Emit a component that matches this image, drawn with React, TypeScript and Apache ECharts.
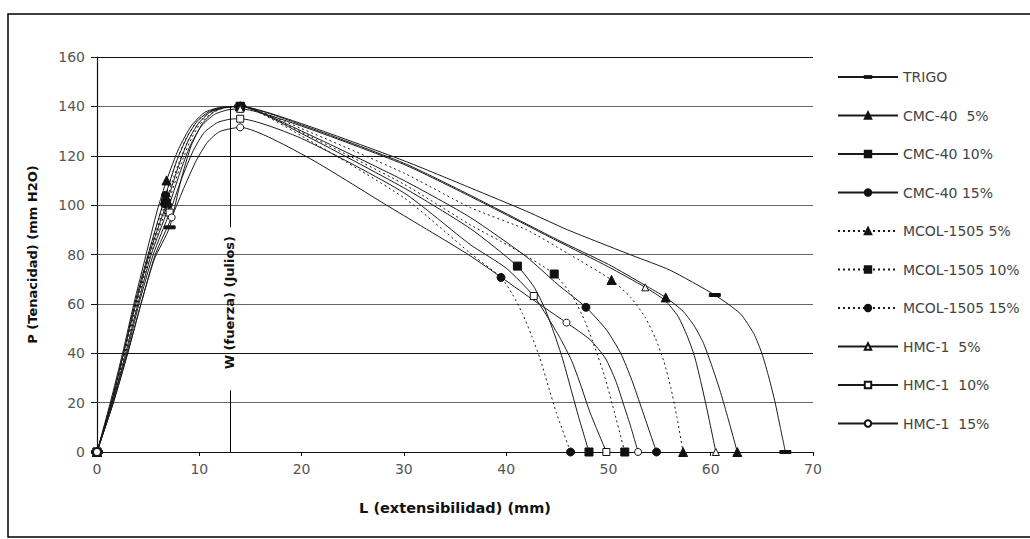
import React, { useEffect, useRef } from "react";
import * as echarts from "echarts";

// [x (mm), P (mm H2O), marker flag]
const TRIGO = [[0,0,1],[1.6,20],[3.0,40],[4.3,60],[5.6,78],[7.1,91,1],[8.2,110],[9.2,124],[10.3,133],[11.5,138],[12.8,139.8],[14,140,1],[20,133],[30,118],[36.5,107],[42,97.5],[46,90],[52.4,79.5],[56,73.7],[60.4,63.6,1],[62.9,56],[64.2,48],[65.0,40],[65.7,30],[66.3,20],[66.8,10],[67.3,0,1]];
const CMC5 = [[0,0,1],[1.3,20],[2.5,40],[3.6,60],[4.8,80],[5.9,98],[6.8,110,1],[8.0,123],[9.2,132],[10.5,137.5],[12,139.6],[14,140,1],[20,132.5],[30,117],[36.5,104],[45,86],[50,76],[53.6,67.5],[55.6,62.6,1],[57.3,57],[58.4,51],[59.3,44],[60.1,35],[60.9,25],[61.6,15],[62.6,0,1]];
const CMC10 = [[0,0,1],[1.4,20],[2.6,40],[3.8,60],[5.1,80],[6.8,100.7,1],[7.9,115],[8.9,126],[9.9,133],[11,137.5],[12.3,139.5],[14,140,1],[20,129],[30,107],[36.5,90.5],[41.1,75.3,1],[42.7,67],[43.8,58],[44.7,48],[45.5,38],[46.3,26],[47.1,14],[48.1,0,1]];
const CMC15 = [[0,0,1],[1.4,20],[2.6,40],[3.7,60],[5.0,80],[6.7,104,1],[7.8,118],[8.8,127.5],[9.8,134],[11,138],[12.3,139.6],[14,140,1],[20,130],[30,110],[36.5,95],[42,79],[45,68],[47.8,58.6,1],[49.8,49.5],[51.2,40],[52.3,29],[53.3,17],[54.7,0,1]];
const MCOL5 = [[0,0,1],[1.4,20],[2.6,40],[3.7,60],[5.0,80],[6.6,102,1],[7.7,117],[8.7,127],[9.7,133.5],[10.9,137.8],[12.2,139.5],[14,140,1],[20,131],[30,113],[36.5,99],[42,90],[46,80.5],[50.3,69.7,1],[52.2,62.5],[53.6,54.5],[54.6,46],[55.4,37],[56.1,26],[56.7,14],[57.3,0,1]];
const MCOL10 = [[0,0,1],[1.4,20],[2.7,40],[3.8,60],[5.1,80],[6.7,101,1],[7.9,116],[8.9,126],[9.9,133],[11,137.5],[12.3,139.4],[14,140,1],[20,129.5],[30,108.5],[36.5,92],[40.5,83],[44.7,72.1,1],[46.5,63],[47.7,53],[48.7,42],[49.6,31],[50.4,19],[51.6,0,1]];
const MCOL15 = [[0,0,1],[1.4,20],[2.7,40],[3.9,60],[5.2,80],[6.9,100,1],[8.0,114],[9.0,125],[10,132.5],[11.1,137],[12.4,139.3],[14,140,1],[20,128],[30,103],[36.5,80.5],[39.5,70.7,1],[40.6,64],[41.6,56],[42.5,47],[43.3,38],[44.1,27],[44.9,16],[46.3,0,1]];
const HMC5 = [[0,0,1],[1.5,20],[2.8,40],[4.0,60],[5.3,80],[6.9,98,1],[8.1,113],[9.1,124],[10.2,132],[11.5,136.8],[12.8,138.6],[14,139,1],[20,132],[30,116.5],[36.5,103.5],[45,85.5],[50,75],[53.6,66.7,1],[55.5,61.5],[56.8,55],[57.7,47],[58.4,39],[59.0,29],[59.6,18],[60.5,0,1]];
const HMC10 = [[0,0,1],[1.5,20],[2.9,40],[4.1,60],[5.5,80],[7.1,97,1],[8.3,111],[9.4,122],[10.5,129.5],[11.8,133.5],[13,134.8],[14,135,1],[20,127],[30,105],[36.5,84],[40,74.5],[42.7,63.2,1],[44,55],[45.3,46],[46.4,37],[47.3,27],[48.2,16],[49.8,0,1]];
const HMC15 = [[0,0,1],[1.6,20],[3.0,40],[4.3,60],[5.7,80],[7.3,95,1],[8.6,108],[9.7,118],[10.8,125.5],[12,129.8],[14,131.5,1],[20.5,119.6],[28.3,100],[36.1,80.5],[39.1,72],[42.5,62],[45.9,52.4,1],[48.2,45.5],[49.7,38],[50.7,29],[51.5,19],[52.2,10],[52.9,0,1]];

const SERIES_NAMES = ["TRIGO", "CMC-40  5%", "CMC-40 10%", "CMC-40 15%", "MCOL-1505 5%", "MCOL-1505 10%", "MCOL-1505 15%", "HMC-1  5%", "HMC-1  10%", "HMC-1  15%"];
const SERIES_DATA = [TRIGO, CMC5, CMC10, CMC15, MCOL5, MCOL10, MCOL15, HMC5, HMC10, HMC15];

const W_LINE_X = 13;
const W_LINE_TOP = 140;
const W_GAP_LOW = 25;
const W_GAP_HIGH = 91;
const W_LABEL_CENTER = 60.5;
const W_LABEL = "W (fuerza) (Julios)";
const X_TITLE = "L (extensibilidad) (mm)";
const Y_TITLE = "P (Tenacidad) (mm H2O)";

// dash marker drawn inside a square bounding box so it keeps its shape in the legend too
const DASH = "path://M0,0M11,11M0,4H11V7H0Z";
const STYLE: any[] = [
  { symbol: DASH, size: 11, filled: true, dotted: false },
  { symbol: "triangle", size: 9, filled: true, dotted: false },
  { symbol: "rect", size: 8, filled: true, dotted: false },
  { symbol: "circle", size: 8, filled: true, dotted: false },
  { symbol: "triangle", size: 9, filled: true, dotted: true },
  { symbol: "rect", size: 8, filled: true, dotted: true },
  { symbol: "circle", size: 8, filled: true, dotted: true },
  { symbol: "triangle", size: 7, filled: false, dotted: false },
  { symbol: "rect", size: 7, filled: false, dotted: false },
  { symbol: "circle", size: 7, filled: false, dotted: false },
];

const FONT = "'DejaVu Sans', Verdana, sans-serif";

export default function App() {
  const ref = useRef<HTMLDivElement>(null);
  useEffect(() => {
    if (!ref.current) return;
    const chart = echarts.init(ref.current, null, { renderer: "svg" });
    const series: any[] = SERIES_DATA.map((pts, i) => {
      const st = STYLE[i];
      return {
        type: "line",
        name: SERIES_NAMES[i],
        data: pts.map((p: number[]) =>
          p[2] ? { value: [p[0], p[1]] } : { value: [p[0], p[1]], symbol: "none" }
        ),
        symbol: st.symbol,
        symbolSize: st.size,
        showSymbol: true,
        showAllSymbol: true,
        smooth: 0.2,
        itemStyle: { color: st.filled ? "#111" : "#fff", borderColor: "#111", borderWidth: 1 },
        lineStyle: { color: "#1a1a1a", width: 1, type: st.dotted ? [2, 3] : "solid" },
        emphasis: { disabled: true },
        z: 3,
      };
    });
    series[0].markLine = {
      silent: true,
      symbol: ["none", "none"],
      label: { show: false },
      lineStyle: { color: "#000", width: 1, type: "solid" },
      data: [
        [{ coord: [W_LINE_X, 0] }, { coord: [W_LINE_X, W_GAP_LOW] }],
        [{ coord: [W_LINE_X, W_GAP_HIGH] }, { coord: [W_LINE_X, W_LINE_TOP] }],
      ],
    };
    const gridColors = ["#111", "#666", "#111", "#666", "#666", "#666", "#111", "#666", "#111"];
    chart.setOption({
      animation: false,
      backgroundColor: "#fff",
      textStyle: { fontFamily: FONT },
      grid: { left: 97, right: 217, top: 57, bottom: 87, containLabel: false },
      legend: {
        orient: "vertical",
        left: 832,
        top: 65,
        itemWidth: 60,
        itemHeight: 8,
        itemGap: 24.5,
        textStyle: { color: "#444", fontSize: 14, fontFamily: FONT },
        data: SERIES_NAMES,
      },
      xAxis: {
        type: "value",
        min: 0,
        max: 70,
        interval: 10,
        name: X_TITLE,
        nameLocation: "middle",
        nameGap: 48,
        nameTextStyle: { fontWeight: "bold", fontSize: 14.5, color: "#111", fontFamily: FONT },
        axisLine: { show: true, onZero: false, lineStyle: { color: "#111", width: 1.2 } },
        axisTick: { show: true, length: 4, lineStyle: { color: "#111" } },
        axisLabel: { color: "#555", fontSize: 14, margin: 10, fontFamily: FONT },
        splitLine: { show: false },
      },
      yAxis: {
        type: "value",
        min: 0,
        max: 160,
        interval: 20,
        name: Y_TITLE,
        nameLocation: "middle",
        nameGap: 58,
        nameRotate: 90,
        nameTextStyle: { fontWeight: "bold", fontSize: 13, color: "#111", fontFamily: FONT },
        axisLine: { show: true, lineStyle: { color: "#111", width: 1.2 } },
        axisTick: { show: true, length: 6, lineStyle: { color: "#111" } },
        axisLabel: { color: "#555", fontSize: 14, margin: 12, fontFamily: FONT },
        splitLine: { show: true, lineStyle: { color: gridColors, width: 1 } },
      },
      series,
    });
    const mid = chart.convertToPixel({ xAxisIndex: 0, yAxisIndex: 0 }, [W_LINE_X, W_LABEL_CENTER]) as number[];
    chart.setOption({
      graphic: [
        {
          type: "rect",
          shape: { x: 8, y: 14, width: 1040, height: 523 },
          style: { fill: "none", stroke: "#000", lineWidth: 1.5 },
          silent: true,
          z: 0,
        },
        {
          type: "text",
          x: mid[0],
          y: mid[1],
          rotation: Math.PI / 2,
          style: {
            text: W_LABEL,
            fill: "#111",
            font: "bold 13px " + FONT,
            align: "center",
            verticalAlign: "middle",
          },
          silent: true,
          z: 10,
        },
      ],
    });
    return () => chart.dispose();
  }, []);
  return (
    <div
      ref={ref}
      style={{ position: "absolute", left: 0, top: 0, width: 1030, height: 539 }}
    />
  );
}
